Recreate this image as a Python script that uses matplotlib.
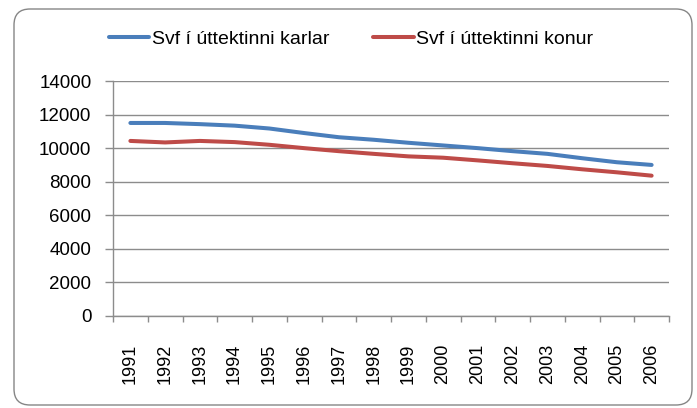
import matplotlib
matplotlib.use("Agg")
import matplotlib.pyplot as plt
from matplotlib.patches import FancyBboxPatch
import numpy as np

years = ["1991", "1992", "1993", "1994", "1995", "1996", "1997", "1998",
         "1999", "2000", "2001", "2002", "2003", "2004", "2005", "2006"]
karlar = [11500, 11500, 11430, 11340, 11170, 10900, 10650, 10500,
          10320, 10160, 10000, 9820, 9660, 9400, 9160, 9000]
konur = [10430, 10340, 10430, 10360, 10200, 10000, 9820, 9660,
         9510, 9430, 9270, 9100, 8940, 8740, 8560, 8360]
label_karlar = "Svf í úttektinni karlar"
label_konur = "Svf í úttektinni konur"
yticks = [0, 2000, 4000, 6000, 8000, 10000, 12000, 14000]

plt.rcParams['font.family'] = ['Liberation Sans', 'DejaVu Sans']

W, H = 697, 408
fig = plt.figure(figsize=(W / 100, H / 100), dpi=100)
fig.patch.set_facecolor("white")

# rounded border
border = FancyBboxPatch((0.14, 0.03), 6.78, 3.96,
                        boxstyle="round,pad=0,rounding_size=0.16",
                        transform=fig.dpi_scale_trans, facecolor="none",
                        edgecolor="#868686", linewidth=1.0)
fig.patches.append(border)

ax = fig.add_axes([113 / W, 1 - 316 / H, (669 - 113) / W, (316 - 81) / H])

x = np.arange(len(years))
grid_c = "#8c8c8c"
ax.plot(x, karlar, color="#4A7EBB", linewidth=2.9, solid_capstyle="round",
        label=label_karlar, zorder=3)
ax.plot(x, konur, color="#BE4B48", linewidth=2.9, solid_capstyle="round",
        label=label_konur, zorder=3)

ax.set_xlim(-0.5, len(years) - 0.5)
ax.set_ylim(0, 14000)
ax.set_yticks(yticks)
ax.set_yticklabels([str(v) for v in yticks])
ax.yaxis.grid(True, color=grid_c, linewidth=1.0)
ax.set_axisbelow(True)

# category boundaries as major ticks, labels at centers
ax.set_xticks(np.arange(-0.5, len(years) + 0.5, 1.0))
ax.set_xticklabels([])
ax.set_xticks(x, minor=True)
ax.set_xticklabels(years, minor=True, rotation=90)
ax.tick_params(axis="x", which="major", length=4.5, color=grid_c, width=1.0)
ax.tick_params(axis="x", which="minor", length=0, pad=20, labelsize=13)
ax.tick_params(axis="y", length=5.5, color=grid_c, width=1.0, pad=10, labelsize=13.5)

for s in ["top", "right"]:
    ax.spines[s].set_visible(False)
for s in ["left", "bottom"]:
    ax.spines[s].set_color(grid_c)
    ax.spines[s].set_linewidth(1.0)

fig.legend(loc="center", bbox_to_anchor=(0.504, 1 - 39 / H), ncol=2,
           frameon=False, fontsize=14, handlelength=2.06, handletextpad=0.15,
           columnspacing=2.26, borderaxespad=0)

fig.savefig("out.png", dpi=100, facecolor="white")
